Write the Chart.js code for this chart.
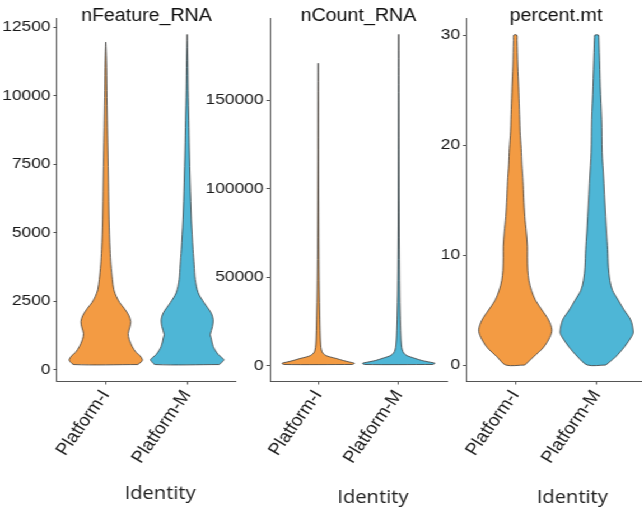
<!DOCTYPE html>
<html>
<head>
<meta charset="utf-8">
<script src="https://cdn.jsdelivr.net/npm/chart.js@4"></script>
<style>
  html, body { margin: 0; padding: 0; background: #fff; overflow: hidden; width: 642px; height: 512px; }
  #stage { position: absolute; left: 0; top: 0; width: 800px; height: 512px; transform-origin: 0 0; }
  #stage canvas { position: absolute; top: 0; }
</style>
</head>
<body>
<div id="stage"></div>
<script>
// Groups on the x axis
const identities = ['Platform-I', 'Platform-M'];

// nFeature_RNA: value levels along each violin and the relative width at each level
const featureLevels_I = [180, 290, 364, 510, 620, 840, 1090, 1310, 1560, 1750, 1970, 2220, 2440, 2660, 2910, 3280, 3820, 4370, 5460, 6810, 8010, 9100, 10190, 11290, 11950];
const featureWidth_I  = [0.87, 0.98, 1.0, 0.93, 0.83, 0.72, 0.64, 0.61, 0.66, 0.68, 0.63, 0.51, 0.38, 0.29, 0.22, 0.18, 0.14, 0.115, 0.087, 0.071, 0.055, 0.041, 0.027, 0.016, 0];
const featureLevels_M = [180, 290, 364, 546, 840, 1165, 1275, 1565, 1820, 2075, 2440, 2800, 3280, 3820, 4370, 5460, 6810, 8010, 9100, 10190, 11290, 12230];
const featureWidth_M  = [0.87, 0.97, 1.0, 0.85, 0.71, 0.65, 0.63, 0.69, 0.71, 0.65, 0.46, 0.30, 0.22, 0.19, 0.16, 0.115, 0.082, 0.06, 0.044, 0.027, 0.016, 0];
const featureTicks = [0, 2500, 5000, 7500, 10000, 12500];

// nCount_RNA
const countLevels_I = [680, 1360, 2090, 2940, 4070, 4920, 5760, 7180, 8870, 11700, 17300, 28600, 42800, 65400, 93600, 121900, 150100, 170900];
const countWidth_I  = [0.94, 1.0, 0.86, 0.69, 0.5, 0.33, 0.21, 0.125, 0.089, 0.069, 0.056, 0.042, 0.03, 0.019, 0.0125, 0.008, 0.0055, 0];
const countLevels_M = [680, 1360, 2090, 2940, 4070, 4920, 5760, 7180, 8870, 11700, 17300, 28600, 42800, 65400, 93600, 121900, 150100, 187200];
const countWidth_M  = [0.94, 1.0, 0.84, 0.64, 0.46, 0.33, 0.22, 0.14, 0.1, 0.075, 0.058, 0.04, 0.028, 0.018, 0.012, 0.008, 0.005, 0];
const countTicks = [0, 50000, 100000, 150000];

// percent.mt
const mtLevels_I = [0, 0.75, 1.6, 2.5, 3.2, 4.1, 5.0, 5.9, 6.8, 7.7, 8.6, 9.8, 10.8, 12.1, 13.5, 15.2, 16.7, 18.2, 19.7, 21.2, 22.3, 24.2, 25.3, 27.1, 28.4, 29.5, 30];
const mtWidth_I  = [0.26, 0.50, 0.77, 0.94, 1.0, 0.91, 0.73, 0.55, 0.44, 0.37, 0.34, 0.33, 0.33, 0.30, 0.26, 0.23, 0.21, 0.18, 0.16, 0.13, 0.12, 0.10, 0.09, 0.066, 0.057, 0.049, 0.041];
const mtLevels_M = [0, 0.75, 1.66, 2.57, 3.0, 4.1, 5.0, 5.9, 6.8, 7.7, 8.9, 10.5, 12, 15, 17, 19.3, 22.3, 25.3, 28.4, 29.8, 30];
const mtWidth_M  = [0.25, 0.52, 0.76, 0.95, 1.0, 0.93, 0.75, 0.59, 0.43, 0.36, 0.32, 0.30, 0.27, 0.22, 0.19, 0.15, 0.135, 0.10, 0.073, 0.059, 0.049];
const mtTicks = [0, 10, 20, 30];

const groupColors = ['#F39B43', '#4EB6D6'];

const panels = [
  { title: 'nFeature_RNA', yMin: -420, yMax: 12830, ticks: featureTicks,
    groups: [[featureLevels_I, featureWidth_I], [featureLevels_M, featureWidth_M]] },
  { title: 'nCount_RNA', yMin: -8650, yMax: 196450, ticks: countTicks,
    groups: [[countLevels_I, countWidth_I], [countLevels_M, countWidth_M]] },
  { title: 'percent.mt', yMin: -1.45, yMax: 31.55, ticks: mtTicks,
    groups: [[mtLevels_I, mtWidth_I], [mtLevels_M, mtWidth_M]] }
];

// Page layout (page pixels); the figure is drawn narrower and widened by STRETCH
const STRETCH = 1.12;
const PAGE_H = 512, AREA_TOP = 18, AREA_BOTTOM = 381;
const frames = [
  { left: 0,   plotLeft: 57,  plotRight: 236, identityCenter: 160, identityGap: 7 },
  { left: 205, plotLeft: 270, plotRight: 447, identityCenter: 373, identityGap: 3 },
  { left: 425, plotLeft: 467, plotRight: 646, identityCenter: 573, identityGap: 3 }
];

Chart.defaults.font.family = "'Liberation Sans', Arial, sans-serif";
Chart.defaults.font.size = 15;
Chart.defaults.color = '#1a1a1a';

const stage = document.getElementById('stage');
stage.style.transform = 'scaleX(' + STRETCH + ')';

// Closed outline of one violin: right side upward, left side back down
function violinPoints(levels, widths, center) {
  const right = levels.map((v, i) => ({ x: center + 0.45 * widths[i], y: v }));
  const left = levels.map((v, i) => ({ x: center - 0.45 * widths[i], y: v })).reverse();
  return right.concat(left, [right[0]]);
}

panels.forEach((p, k) => {
  const f = frames[k];
  const canvasW = Math.round(2 * (f.identityCenter - f.left) / STRETCH);
  const yAxisW = (f.plotLeft - f.left) / STRETCH;
  const padW = canvasW - (f.plotRight - f.left) / STRETCH;
  const titleFont = { family: "'Open Sans', sans-serif", size: 18, weight: 'normal' };
  const titleBox = titleFont.size * 1.2 + f.identityGap;
  const xAxisH = PAGE_H - titleBox - AREA_BOTTOM;

  const canvas = document.createElement('canvas');
  canvas.width = canvasW;
  canvas.height = PAGE_H;
  canvas.style.width = canvasW + 'px';
  canvas.style.height = PAGE_H + 'px';
  canvas.style.left = (f.left / STRETCH) + 'px';
  stage.appendChild(canvas);

  const datasets = p.groups.map(([levels, widths], g) => ({
    data: violinPoints(levels, widths, g + 1),
    showLine: true,
    fill: 'shape',
    backgroundColor: groupColors[g],
    borderColor: '#3a3a3a',
    borderWidth: 0.8,
    pointRadius: 0,
    pointHoverRadius: 0,
    tension: 0.3,
    xAxisID: 'x',
    yAxisID: 'y'
  }));

  new Chart(canvas, {
    type: 'scatter',
    data: { datasets },
    options: {
      responsive: false,
      animation: false,
      devicePixelRatio: 1,
      layout: { padding: 0 },
      plugins: {
        legend: { display: false },
        tooltip: { enabled: false },
        title: {
          display: true, text: 'Identity', position: 'bottom',
          font: titleFont, color: '#222',
          padding: { top: 0, bottom: f.identityGap }
        }
      },
      scales: {
        x: {
          type: 'linear', position: 'bottom', min: 0.4, max: 2.6,
          afterBuildTicks: s => { s.ticks = identities.map((_, i) => ({ value: i + 1 })); },
          ticks: {
            callback: v => identities[v - 1],
            minRotation: 57, maxRotation: 57, autoSkip: false, padding: 2,
            font: { size: 17 }, color: '#1a1a1a'
          },
          grid: { drawOnChartArea: false, tickLength: 3.5, color: '#555', lineWidth: 1 },
          border: { display: true, color: '#555', width: 1 },
          afterFit: s => { s.height = xAxisH; }
        },
        xTop: {
          type: 'linear', position: 'top', min: 0.4, max: 2.6,
          ticks: { display: false },
          grid: { display: false },
          border: { display: false },
          title: { display: true, text: p.title, font: { size: 17.5 }, color: '#111', padding: { top: 6, bottom: 0 } },
          afterFit: s => { s.height = AREA_TOP; }
        },
        y: {
          type: 'linear', position: 'left', min: p.yMin, max: p.yMax,
          afterBuildTicks: s => { s.ticks = p.ticks.map(v => ({ value: v })); },
          ticks: { callback: v => String(v), padding: 2.5, font: { size: 15.5 }, color: '#1a1a1a' },
          grid: { drawOnChartArea: false, tickLength: 3.2, color: '#555', lineWidth: 1 },
          border: { display: true, color: '#555', width: 1 },
          afterFit: s => { s.width = yAxisW; }
        },
        pad: {
          type: 'linear', position: 'right',
          ticks: { display: false },
          grid: { display: false },
          border: { display: false },
          afterFit: s => { s.width = padW; }
        }
      }
    }
  });
});
</script>
</body>
</html>
